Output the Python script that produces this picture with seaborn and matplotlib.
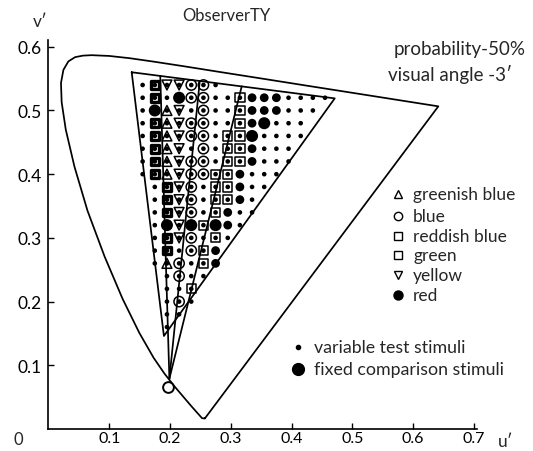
import matplotlib
matplotlib.use("Agg")
import matplotlib.pyplot as plt
from matplotlib.lines import Line2D
import pandas as pd
import seaborn as sns

# ---------------- data ----------------
TITLE = "ObserverTY"
NOTE_1 = "probability-50%"
NOTE_2 = "visual angle -3\u2032"
X_LABEL = "u\u2032"
Y_LABEL = "v\u2032"
ORIGIN_LABEL = "0"

X_TICKS = [0.1, 0.2, 0.3, 0.4, 0.5, 0.6, 0.7]
X_TICK_LABELS = ["0.1", "0.2", "0.3", "0.4", "0.5", "0.6", "0.7"]
Y_TICKS = [0.1, 0.2, 0.3, 0.4, 0.5, 0.6]
Y_TICK_LABELS = ["0.1", "0.2", "0.3", "0.4", "0.5", "0.6"]

# spectral locus (u', v') as drawn
LOCUS_U = [0.2574, 0.2528, 0.2359, 0.2181, 0.2058, 0.1908, 0.1730, 0.1495,
           0.1220, 0.0924, 0.0643, 0.0429, 0.0286, 0.0218, 0.0207, 0.0247,
           0.0328, 0.0439, 0.0569, 0.0710, 0.1000, 0.1334, 0.1736, 0.2229,
           0.2822, 0.3511, 0.4227, 0.5389, 0.6187, 0.6414]
LOCUS_V = [0.0166, 0.0169, 0.0350, 0.0549, 0.0688, 0.0871, 0.1119, 0.1510,
           0.2044, 0.2708, 0.3427, 0.4117, 0.4698, 0.5131, 0.5432, 0.5638,
           0.5770, 0.5837, 0.5861, 0.5868, 0.5856, 0.5821, 0.5766, 0.5694,
           0.5604, 0.5501, 0.5393, 0.5219, 0.5099, 0.5065]

# outlined test-stimulus triangle
TRIANGLE_U = [0.137, 0.471, 0.190, 0.137]
TRIANGLE_V = [0.560, 0.519, 0.146, 0.560]

# dividing lines from the convergence point to the top edge
CONV_U = 0.199
CONV_V = 0.079
DIVIDER_TOP_U = [0.184, 0.249, 0.318]
DIVIDER_TOP_V = [0.554, 0.546, 0.538]

# open circle near the blue corner
OPEN_POINT_U = [0.197]
OPEN_POINT_V = [0.066]

# grid of stimuli
GRID_U = [0.155, 0.175, 0.195, 0.215, 0.235, 0.255, 0.275, 0.295,
          0.315, 0.335, 0.355, 0.375, 0.395, 0.415, 0.435, 0.455]
GRID_V = [0.54, 0.52, 0.50, 0.48, 0.46, 0.44, 0.42, 0.40, 0.38, 0.36,
          0.34, 0.32, 0.30, 0.28, 0.26, 0.24, 0.22, 0.20, 0.18, 0.16]
# . test only, T greenish blue, O blue, R reddish blue, G green,
# Y yellow, F red, B fixed comparison, - nothing
GRID_ROWS = [
    ".GYYOO.---------",
    ".G.BOO..RFFF....",
    ".BTY.O..RFFF...-",
    ".GTYOO..RFB...--",
    ".GTYOO.RRB....--",
    ".GTY.O.RRF...---",
    ".GTYOO.RRF...---",
    ".GTYOORRF...----",
    "-.GYO.RRF..-----",
    "-.GYO.RRF.------",
    "-.GYO.RF..------",
    "-.BYBRBF.-------",
    "-.GYO.R.--------",
    "-.G.ORF---------",
    "-.TO.RF---------",
    "--.O..----------",
    "--..R-----------",
    "--.O.-----------",
    "--..------------",
    "--.-------------",
]

HUE_LABELS = ["greenish blue", "blue", "reddish blue", "green", "yellow", "red"]
STIMULI_LABELS = ["variable test stimuli", "fixed comparison stimuli"]

# ---------------- figure ----------------
sns.set_style("ticks")
plt.rcParams["font.family"] = ["Lato", "DejaVu Sans"]
plt.rcParams["font.size"] = 12

W, H = 533, 452
fig = plt.figure(figsize=(W / 100, H / 100), dpi=100)
fig.patch.set_facecolor("white")
ax = fig.add_axes([48.4 / W, 22 / H, 428.6 / W, 388.6 / H])
ax.set_facecolor("white")


def fx(x):
    return x / W


def fy(y):
    return 1 - y / H


LW = 1.25
# spectral locus closed by the purple line
sns.lineplot(x=LOCUS_U + [LOCUS_U[0]], y=LOCUS_V + [LOCUS_V[0]], sort=False,
             estimator=None, color="black", linewidth=LW, ax=ax)
sns.lineplot(x=TRIANGLE_U, y=TRIANGLE_V, sort=False, estimator=None,
             color="black", linewidth=LW, ax=ax)
for tu, tv in zip(DIVIDER_TOP_U, DIVIDER_TOP_V):
    sns.lineplot(x=[CONV_U, tu], y=[CONV_V, tv], sort=False, estimator=None,
                 color="black", linewidth=LW, ax=ax)

records = []
for v, row in zip(GRID_V, GRID_ROWS):
    for u, code in zip(GRID_U, row):
        if code != "-":
            records.append((u, v, code))
df = pd.DataFrame(records, columns=["u", "v", "code"])

# open-symbol categories
open_styles = {
    "T": dict(marker="^", s=50, linewidth=1.1),
    "O": dict(marker="o", s=55, linewidth=1.1),
    "R": dict(marker="s", s=44, linewidth=1.1),
    "G": dict(marker="s", s=30, linewidth=2.4),
    "Y": dict(marker="v", s=50, linewidth=1.1),
}
for code, st in open_styles.items():
    sub = df[df["code"] == code]
    sns.scatterplot(data=sub, x="u", y="v", marker=st["marker"], s=st["s"],
                    facecolor="none", edgecolor="black",
                    linewidth=st["linewidth"], legend=False, ax=ax, zorder=3)

# small dots for every variable test stimulus
dots = df[df["code"].isin(list(".TORGY"))]
sns.scatterplot(data=dots, x="u", y="v", marker="o", s=11, color="black",
                edgecolor="none", legend=False, ax=ax, zorder=4)

# filled circles
sns.scatterplot(data=df[df["code"] == "F"], x="u", y="v", marker="o", s=40,
                color="black", edgecolor="none", legend=False, ax=ax, zorder=4)
sns.scatterplot(data=df[df["code"] == "B"], x="u", y="v", marker="o", s=75,
                color="black", edgecolor="none", legend=False, ax=ax, zorder=4)

# open point
sns.scatterplot(x=OPEN_POINT_U, y=OPEN_POINT_V, marker="o", s=60,
                facecolor="white", edgecolor="black", linewidth=1.4,
                legend=False, ax=ax, zorder=5)

# axes styling
ax.set_xlim(0, 0.705)
ax.set_ylim(0, 0.61)
for side in ["top", "right"]:
    ax.spines[side].set_visible(False)
for side in ["left", "bottom"]:
    ax.spines[side].set_linewidth(1.2)
    ax.spines[side].set_color("black")
ax.set_xticks(X_TICKS)
ax.set_xticklabels(X_TICK_LABELS)
ax.set_yticks(Y_TICKS)
ax.set_yticklabels(Y_TICK_LABELS)
ax.tick_params(axis="x", direction="in", length=4, width=1, pad=1.5,
               labelsize=11.5, colors="black")
ax.tick_params(axis="y", direction="in", length=4, width=1, pad=5,
               labelsize=12.5, colors="black")
ax.set_xlabel("")
ax.set_ylabel("")

# texts
fig.text(fx(226), fy(16), TITLE, ha="center", va="center", fontsize=12)
fig.text(fx(40), fy(22), Y_LABEL, ha="center", va="center", fontsize=12.5)
fig.text(fx(498), fy(442), X_LABEL, ha="left", va="center", fontsize=12.5)
fig.text(fx(18), fy(440), ORIGIN_LABEL, ha="center", va="center", fontsize=12)
fig.text(fx(394), fy(49), NOTE_1, ha="left", va="center", fontsize=13.5)
fig.text(fx(388), fy(74), NOTE_2, ha="left", va="center", fontsize=13.5)

# legend (hue categories)
legend_markers = [("^", "none", 6), ("o", "none", 6), ("s", "none", 6),
                  ("s", "none", 5.5), ("v", "none", 6), ("o", "black", 6.5)]
legend_y = [195, 217, 237, 256, 276, 296]
for (mk, fc, ms), yy, lab in zip(legend_markers, legend_y, HUE_LABELS):
    fig.add_artist(Line2D([fx(398)], [fy(yy)], marker=mk, markersize=ms,
                          markerfacecolor=fc, markeredgecolor="black",
                          markeredgewidth=1.0, linestyle="none",
                          transform=fig.transFigure))
    fig.text(fx(413), fy(yy), lab, ha="left", va="center", fontsize=12.5)

stim_markers = [("o", 3), ("o", 8.5)]
stim_y = [348, 370]
for (mk, ms), yy, lab in zip(stim_markers, stim_y, STIMULI_LABELS):
    fig.add_artist(Line2D([fx(298)], [fy(yy)], marker=mk, markersize=ms,
                          markerfacecolor="black", markeredgecolor="black",
                          linestyle="none", transform=fig.transFigure))
    fig.text(fx(314), fy(yy), lab, ha="left", va="center", fontsize=12.8)

fig.savefig("out.png", dpi=100, facecolor="white")
